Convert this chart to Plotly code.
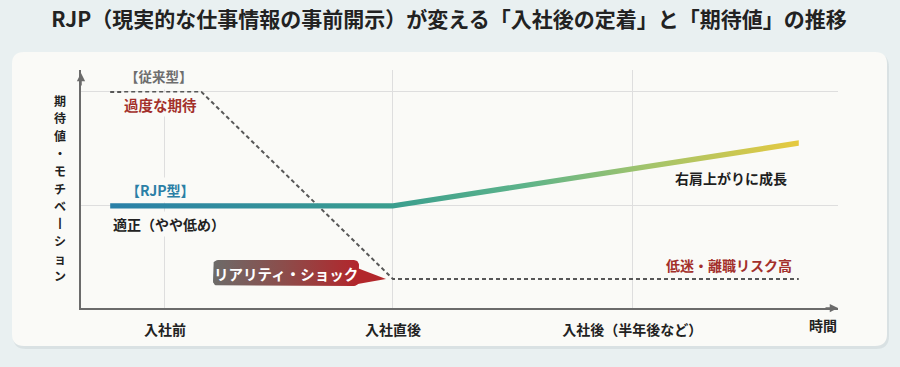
import math
import plotly.graph_objects as go

# ---------------- data ----------------
phase_labels = ["入社前", "入社直後", "入社後（半年後など）"]
phase_x = [0, 10, 20.5]

trad_x = [-2.4, 1.6, 10, 27.8]
trad_y = [9.08, 9.08, 1.22, 1.22]

rjp_x = [-2.4, 10, 27.8]
rjp_y = [4.29, 4.29, 6.93]

grid_levels = [4.29, 9.08]

title_text = "RJP（現実的な仕事情報の事前開示）が変える「入社後の定着」と「期待値」の推移"
y_title = "期待値・モチベ丨ション"
x_title = "時間"

# ---------------- layout geometry ----------------
W, H = 900, 367
PL, PR, PT, PB = 81, 838, 70, 308
X0, X1 = -3.68, 29.52
Y0, Y1 = 0, 10
FONT = "Noto Sans CJK JP"
CARD = "#fafaf7"


def xp(px):
    return (px - PL) / (PR - PL)


def yp(py):
    return (PB - py) / (PB - PT)


def dx(px):
    return X0 + (px - PL) / (PR - PL) * (X1 - X0)


def dy(py):
    return Y1 - (py - PT) / (PB - PT) * (Y1 - Y0)


def rrect_path(x0, y0, x1, y1, r):
    return (f"M {xp(x0 + r)},{yp(y0)} L {xp(x1 - r)},{yp(y0)} Q {xp(x1)},{yp(y0)} {xp(x1)},{yp(y0 + r)} "
            f"L {xp(x1)},{yp(y1 - r)} Q {xp(x1)},{yp(y1)} {xp(x1 - r)},{yp(y1)} "
            f"L {xp(x0 + r)},{yp(y1)} Q {xp(x0)},{yp(y1)} {xp(x0)},{yp(y1 - r)} "
            f"L {xp(x0)},{yp(y0 + r)} Q {xp(x0)},{yp(y0)} {xp(x0 + r)},{yp(y0)} Z")


fig = go.Figure()

# traditional (dashed)
fig.add_trace(go.Scatter(
    x=trad_x, y=trad_y, mode="lines",
    line=dict(color="#575757", width=2, dash="4px,3px"),
    hoverinfo="skip", showlegend=False))

# RJP gradient band built from the data points
h = 2.7 / (PB - PT) * (Y1 - Y0)
band_x = rjp_x + rjp_x[::-1]
band_y = [v + h for v in rjp_y] + [v - h for v in rjp_y[::-1]]
fig.add_trace(go.Scatter(
    x=band_x, y=band_y, mode="lines", fill="toself",
    line=dict(width=0, color="rgba(0,0,0,0)"),
    fillgradient=dict(type="horizontal", colorscale=[
        [0, "#2a80a8"], [0.41, "#3a9e8e"], [0.6, "#5db38a"],
        [0.78, "#a2c46c"], [1, "#e6c93f"]]),
    hoverinfo="skip", showlegend=False))

# reality-shock callout box
bx0, by0, bx1, by1, r = 213, 260, 359, 286, 5
cx, cy = [], []
corners = [(bx1 - r, by0 + r, -90, 0), (bx1 - r, by1 - r, 0, 90),
           (bx0 + r, by1 - r, 90, 180), (bx0 + r, by0 + r, 180, 270)]
for ccx, ccy, a0, a1 in corners:
    for k in range(7):
        a = math.radians(a0 + (a1 - a0) * k / 6)
        cx.append(dx(ccx + r * math.cos(a)))
        cy.append(dy(ccy + r * math.sin(a)))
cx.append(cx[0]); cy.append(cy[0])
fig.add_trace(go.Scatter(
    x=[dx(352), dx(386), dx(352), dx(352)], y=[dy(266), dy(279), dy(285), dy(266)],
    mode="lines", fill="toself", fillcolor="#b2272b",
    line=dict(width=0, color="rgba(0,0,0,0)"), hoverinfo="skip", showlegend=False))
fig.add_trace(go.Scatter(
    x=cx, y=cy, mode="lines", fill="toself",
    line=dict(width=0, color="rgba(0,0,0,0)"),
    fillgradient=dict(type="horizontal", colorscale=[
        [0, "#6c6b69"], [0.5, "#8d4c4a"], [1, "#b3252b"]]),
    hoverinfo="skip", showlegend=False))

shapes = [
    dict(type="path", xref="paper", yref="paper", layer="below",
         path=rrect_path(13, 54, 889, 349, 13), fillcolor="rgba(80,100,110,0.10)", line=dict(width=0)),
    dict(type="path", xref="paper", yref="paper", layer="below",
         path=rrect_path(12, 52, 887, 346, 12), fillcolor=CARD, line=dict(width=0)),
]

ann = []


def label(text, px, py, color, size=14, anchor="center", bg=CARD, weight="bold", pad=2):
    ann.append(dict(text=text, x=xp(px), y=yp(py), xref="paper", yref="paper",
                    xanchor=anchor, yanchor="middle", showarrow=False,
                    font=dict(family=FONT, size=size, color=color, weight=weight),
                    bgcolor=bg, borderpad=pad))


label("【従来型】", 159, 76, "#6e6e6e", size=13.5, pad=3)
label("過度な期待", 160, 104, "#a3302b", size=14.5, pad=1)
label("【RJP型】", 160, 190, "#2b7fa6", size=14, pad=2)
label("適正（やや低め）", 110, 224, "#222222", anchor="left", pad=2)
label("右肩上がりに成長", 790, 178, "#1e1e1e", anchor="right", bg=None)
label("低迷・離職リスク高", 795, 265, "#a3302b", anchor="right", bg=None)
label("リアリティ・ショック", 286, 273, "#ffffff", size=14.5, bg=None)
label(x_title, 823, 325, "#222222", bg=None)

# vertical y-axis title, one character per annotation
for i, ch in enumerate(y_title):
    label(ch, 60, 100.5 + i * 17.5, "#222222", size=12, bg=None, pad=0)

# axis arrowheads
ann.append(dict(x=1, y=0, xref="paper", yref="paper", ax=-14, ay=0, text="",
                showarrow=True, arrowhead=2, arrowsize=1.1, arrowwidth=1.5, arrowcolor="#6b6b6b"))
ann.append(dict(x=0, y=1 - 3 / (PB - PT), xref="paper", yref="paper", ax=0, ay=14, text="",
                showarrow=True, arrowhead=2, arrowsize=1.1, arrowwidth=1.5, arrowcolor="#6b6b6b"))

fig.update_layout(
    width=W, height=H, autosize=False,
    margin=dict(l=PL, r=W - PR, t=PT, b=H - PB, pad=0),
    paper_bgcolor="#e9f0f1", plot_bgcolor="rgba(0,0,0,0)",
    font=dict(family=FONT, color="#222"),
    title=dict(text=title_text, x=449 / W, xref="container", xanchor="center",
               y=1 - 20 / H, yref="container", yanchor="middle",
               font=dict(family=FONT, size=21, color="#222222", weight="bold")),
    xaxis=dict(range=[X0, X1], tickvals=phase_x, ticktext=phase_labels,
               showgrid=True, gridcolor="#dedede", gridwidth=1, zeroline=False,
               showline=True, linecolor="#6b6b6b", linewidth=1.5, ticks="",
               ticklabelstandoff=8,
               tickfont=dict(family=FONT, size=14, color="#222222", weight="bold"),
               fixedrange=True),
    yaxis=dict(range=[Y0, Y1], tickvals=grid_levels, showticklabels=False,
               showgrid=True, gridcolor="#dedede", gridwidth=1, zeroline=False,
               showline=True, linecolor="#6b6b6b", linewidth=1.5, ticks="",
               fixedrange=True),
    shapes=shapes, annotations=ann, showlegend=False,
)

fig.write_html("out.html", config={"displayModeBar": False})
